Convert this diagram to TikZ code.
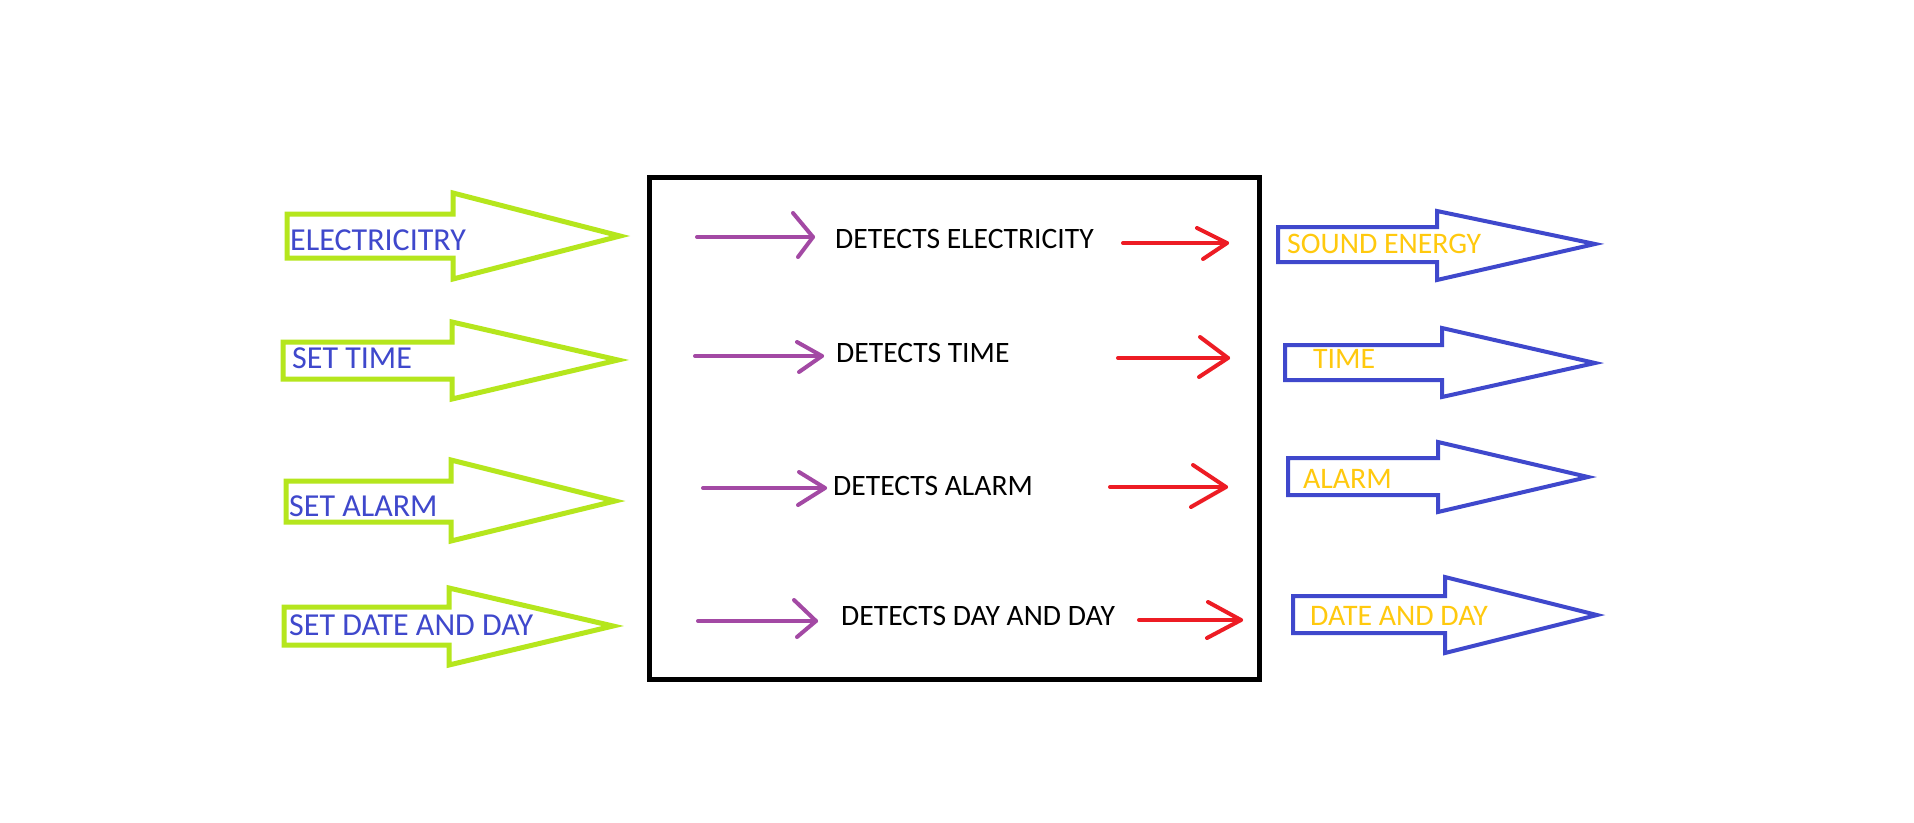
\documentclass[tikz,border=0pt]{standalone}
\usepackage{fontspec}
\setmainfont{Carlito}
\definecolor{plime}{RGB}{181,230,29}
\definecolor{pblue}{RGB}{63,72,204}
\definecolor{pgold}{RGB}{255,201,14}
\definecolor{ppurple}{RGB}{163,73,164}
\definecolor{pred}{RGB}{237,28,36}
\begin{document}
\begin{tikzpicture}[x=1pt,y=-1pt,
  lbl/.style={anchor=base west, inner sep=0pt},
  inlab/.style={lbl, text=pblue, font=\fontsize{32}{38}\selectfont},
  detlab/.style={lbl, text=black, font=\fontsize{29.6}{35}\selectfont},
  outlab/.style={lbl, text=pgold, font=\fontsize{29.8}{35}\selectfont},
  garrow/.style={draw=plime, line width=5pt, line join=miter},
  barrow/.style={draw=pblue, line width=4pt, line join=miter},
  sysbox/.style={draw=black, line width=5pt, rectangle, inner sep=0pt},
  parrow/.style={draw=ppurple, line width=4pt, line cap=round, line join=round},
  rarrow/.style={draw=pred, line width=4pt, line cap=round, line join=round}]
\useasboundingbox (0,0) rectangle (1914,822);
\fill[white] (0,0) rectangle (1914,822);

% input arrows (green)
\draw[garrow] (287,214) -- (453,214) -- (453,193) -- (620,236) -- (453,279) -- (453,258) -- (287,258) -- cycle;
\draw[garrow] (283,342) -- (452,342) -- (452,322) -- (618,360) -- (452,399) -- (452,379) -- (283,379) -- cycle;
\draw[garrow] (286,481) -- (451,481) -- (451,460) -- (615,501) -- (451,541) -- (451,522) -- (286,522) -- cycle;
\draw[garrow] (284,607) -- (449,607) -- (449,588) -- (613,626) -- (449,665) -- (449,645) -- (284,645) -- cycle;

\node[inlab] (in1) at (290,250) {ELECTRICITRY};
\node[inlab] (in2) at (292,368) {SET TIME};
\node[inlab] (in3) at (289,516) {SET ALARM};
\node[inlab] (in4) at (289,635) {SET DATE AND DAY};

% system box
\node[sysbox, minimum width=610pt, minimum height=502pt] (sys) at (954.5,428) {};

% detect labels
\node[detlab] (d1) at (835,248) {DETECTS ELECTRICITY};
\node[detlab] (d2) at (836,362) {DETECTS TIME};
\node[detlab] (d3) at (833,495) {DETECTS ALARM};
\node[detlab] (d4) at (841,625) {DETECTS DAY AND DAY};

% purple arrows
\coordinate (p1s) at (697,237); \coordinate (p1e) at (813,237);
\coordinate (p2s) at (695,356); \coordinate (p2e) at (822,356);
\coordinate (p3s) at (703,488); \coordinate (p3e) at (825,488);
\coordinate (p4s) at (698,621); \coordinate (p4e) at (816,621);
\draw[parrow] (p1s) -- (p1e); \draw[parrow] ([shift={(-20,-24)}]p1e) -- (p1e) -- ++(-15,20);
\draw[parrow] (p2s) -- (p2e); \draw[parrow] ([shift={(-25,-14)}]p2e) -- (p2e) -- ++(-23,16);
\draw[parrow] (p3s) -- (p3e); \draw[parrow] ([shift={(-26,-16)}]p3e) -- (p3e) -- ++(-27,17);
\draw[parrow] (p4s) -- (p4e); \draw[parrow] ([shift={(-22,-21)}]p4e) -- (p4e) -- ++(-19,16);

% red arrows
\coordinate (r1s) at (1123,243); \coordinate (r1e) at (1227,243);
\coordinate (r2s) at (1118,358); \coordinate (r2e) at (1228,358);
\coordinate (r3s) at (1110,487); \coordinate (r3e) at (1226,487);
\coordinate (r4s) at (1139,620); \coordinate (r4e) at (1241,620);
\draw[rarrow] (r1s) -- (r1e); \draw[rarrow] ([shift={(-30,-15)}]r1e) -- (r1e) -- ++(-24,16);
\draw[rarrow] (r2s) -- (r2e); \draw[rarrow] ([shift={(-28,-21)}]r2e) -- (r2e) -- ++(-29,19);
\draw[rarrow] (r3s) -- (r3e); \draw[rarrow] ([shift={(-33,-22)}]r3e) -- (r3e) -- ++(-35,20);
\draw[rarrow] (r4s) -- (r4e); \draw[rarrow] ([shift={(-33,-18)}]r4e) -- (r4e) -- ++(-34,18);

% output arrows (blue)
\draw[barrow] (1278,227) -- (1437,227) -- (1437,211) -- (1595,244) -- (1437,280) -- (1437,262) -- (1278,262) -- cycle;
\draw[barrow] (1285,345) -- (1442,345) -- (1442,328) -- (1595,363) -- (1442,397) -- (1442,380) -- (1285,380) -- cycle;
\draw[barrow] (1288,458) -- (1438,458) -- (1438,442) -- (1588,477) -- (1438,512) -- (1438,495) -- (1288,495) -- cycle;
\draw[barrow] (1293,596) -- (1445,596) -- (1445,577) -- (1597,615) -- (1445,653) -- (1445,633) -- (1293,633) -- cycle;

\node[outlab] (o1) at (1287,253) {SOUND ENERGY};
\node[outlab] (o2) at (1313,368) {TIME};
\node[outlab] (o3) at (1303,488) {ALARM};
\node[outlab] (o4) at (1310,625) {DATE AND DAY};
\end{tikzpicture}
\end{document}
